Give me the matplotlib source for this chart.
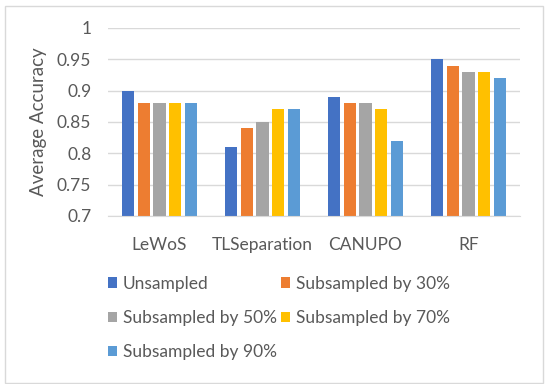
import numpy as np
import matplotlib
matplotlib.use("Agg")
import matplotlib.pyplot as plt
from matplotlib.patches import Rectangle

methods = ["LeWoS", "TLSeparation", "CANUPO", "RF"]
series = ["Unsampled", "Subsampled by 30%", "Subsampled by 50%",
          "Subsampled by 70%", "Subsampled by 90%"]
unsampled = [0.90, 0.81, 0.89, 0.95]
sub30 = [0.88, 0.84, 0.88, 0.94]
sub50 = [0.88, 0.85, 0.88, 0.93]
sub70 = [0.88, 0.87, 0.87, 0.93]
sub90 = [0.88, 0.87, 0.82, 0.92]
values = [unsampled, sub30, sub50, sub70, sub90]
colors = ["#4472C4", "#ED7D31", "#A5A5A5", "#FFC000", "#5B9BD5"]

plt.rcParams["font.family"] = ["Lato", "DejaVu Sans"]
txt = "#595959"

fig = plt.figure(figsize=(5.5, 3.84), dpi=100)
ax = fig.add_axes([108 / 550, 1 - 216 / 384, (520 - 108) / 550, (216 - 28) / 384])

x = np.arange(len(methods))
pitch = 0.155
width = 0.117
handles = []
for i, (vals, c) in enumerate(zip(values, colors)):
    h = ax.bar(x + (i - 2) * pitch, vals, width, color=c, label=series[i], zorder=2)
    handles.append(h)

ax.set_xlim(-0.5, 3.5)
ax.set_ylim(0.7, 1.0)
ax.set_yticks([0.7, 0.75, 0.8, 0.85, 0.9, 0.95, 1.0])
ax.set_yticklabels(["0.7", "0.75", "0.8", "0.85", "0.9", "0.95", "1"])
ax.set_xticks(x)
ax.set_xticklabels(methods)
ax.tick_params(length=0, labelsize=12.5, colors=txt)
ax.tick_params(axis="x", pad=15)
ax.tick_params(axis="y", pad=12)
ax.yaxis.grid(True, color="#D9D9D9", lw=1, zorder=0)
for s in ["top", "right", "left"]:
    ax.spines[s].set_visible(False)
ax.spines["bottom"].set_color("#D9D9D9")
ax.set_ylabel("Average Accuracy", fontsize=13.5, color=txt, labelpad=7)

order = [0, 2, 4, 1, 3]
leg = fig.legend([handles[k] for k in order], [series[k] for k in order],
                 ncol=2, loc="upper left", bbox_to_anchor=(92 / 550, 1 - 260 / 384),
                 frameon=False, fontsize=12.5, handlelength=0.52, handleheight=0.52,
                 handletextpad=0.35, columnspacing=0.22, labelspacing=1.05,
                 labelcolor=txt)

fig.patches.append(Rectangle((5 / 550, 1 / 384), 538 / 550, 377 / 384,
                             transform=fig.transFigure, fill=False,
                             edgecolor="#D9D9D9", lw=1))

fig.savefig("out.png", dpi=100)
